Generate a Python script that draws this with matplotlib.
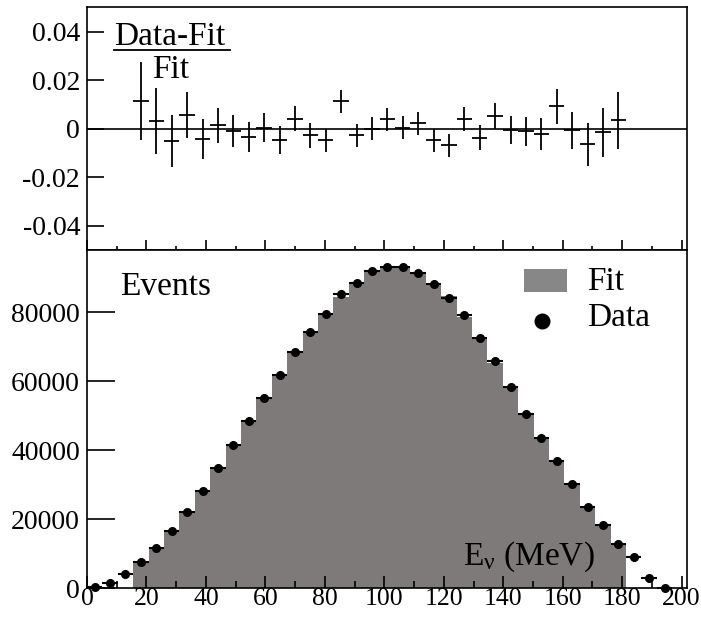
import numpy as np
import matplotlib
matplotlib.use("Agg")
import matplotlib.pyplot as plt
from matplotlib.patches import Rectangle

plt.rcParams["font.family"] = ["Liberation Serif", "DejaVu Serif"]
plt.rcParams["mathtext.fontset"] = "custom"
plt.rcParams["mathtext.rm"] = "Liberation Serif"
plt.rcParams["mathtext.it"] = "Liberation Serif"
plt.rcParams["axes.unicode_minus"] = False

# energy bins (MeV), width ~5.18
BIN_W = 5.18
e_centers = [2.59, 7.77, 12.95, 18.13, 23.31, 28.49, 33.67, 38.85, 44.03, 49.21,
             54.39, 59.57, 64.75, 69.93, 75.11, 80.29, 85.47, 90.65, 95.83, 101.01,
             106.19, 111.37, 116.55, 121.73, 126.91, 132.09, 137.27, 142.45, 147.63,
             152.81, 157.99, 163.17, 168.35, 173.53, 178.71, 183.89, 189.07, 194.25]

data = [300, 1430, 4130, 7460, 11470, 16450, 22190, 28100, 34690, 41570,
        48350, 54960, 61900, 68520, 74120, 79420, 85350, 88300, 91940, 93090,
        93000, 91280, 88130, 84000, 79040, 72500, 65700, 58310, 50460, 43490,
        36810, 30100, 23420, 18180, 12900, 8890, 2780, 100]

# fit only covers bins 3..34
FIT_FIRST, FIT_LAST = 3, 34
fit = [7375, 11435, 16535, 22070, 28225, 34640, 41610, 48510, 54940, 62190,
       68240, 74330, 79800, 84400, 88550, 91940, 92740, 92960, 91080, 88550,
       84580, 78720, 72770, 65360, 58350, 50510, 43590, 36470, 30120, 23570,
       18210, 12860]

resid = [0.0114, 0.0030, -0.0051, 0.0055, -0.0044, 0.0014, -0.0010, -0.0033,
         0.0004, -0.0047, 0.0041, -0.0028, -0.0048, 0.0113, -0.0028, 0.0000,
         0.0038, 0.0004, 0.0022, -0.0048, -0.0069, 0.0041, -0.0037, 0.0052,
         -0.0006, -0.0010, -0.0022, 0.0093, -0.0007, -0.0065, -0.0014, 0.0034]
resid_err = [0.0162, 0.0136, 0.0106, 0.0094, 0.0082, 0.0073, 0.0067, 0.0062,
             0.0059, 0.0056, 0.0052, 0.0050, 0.0047, 0.0048, 0.0046, 0.0046,
             0.0046, 0.0047, 0.0047, 0.0048, 0.0048, 0.0049, 0.0051, 0.0053,
             0.0057, 0.0060, 0.0064, 0.0072, 0.0077, 0.0088, 0.0101, 0.0117]

x_all = np.array(e_centers)
x_fit = x_all[FIT_FIRST:FIT_LAST + 1]
fit_edges = np.append(x_fit - BIN_W / 2, x_fit[-1] + BIN_W / 2)

FILL = "#7e7a7a"
LW = 1.2

fig = plt.figure(figsize=(7.01, 6.19), dpi=100)
ax1 = fig.add_axes([0.1241, 0.5961, 0.8559, 0.3921])
ax2 = fig.add_axes([0.1241, 0.0500, 0.8559, 0.5461])

for ax in (ax1, ax2):
    ax.set_xlim(0, 201.8)
    for sp in ax.spines.values():
        sp.set_linewidth(LW)
    ax.tick_params(which="both", direction="in", width=LW, labelsize=20,
                   top=False, right=False)

# --- residual panel
ax1.axhline(0, color="k", lw=LW)
ax1.errorbar(x_fit, resid, yerr=resid_err, xerr=BIN_W / 2, fmt="none",
             ecolor="k", elinewidth=1.3, capsize=0)
ax1.set_ylim(-0.05, 0.05)
ax1.set_yticks([-0.04, -0.02, 0, 0.02, 0.04])
ax1.set_yticklabels(["-0.04", "-0.02", "0", "0.02", "0.04"])
ax1.set_xticks(range(0, 201, 20))
ax1.set_xticks(range(10, 201, 20), minor=True)
ax1.tick_params(axis="x", which="major", length=7.5, labelbottom=False)
ax1.tick_params(axis="x", which="minor", length=3)
ax1.tick_params(axis="y", which="major", length=12.5, pad=5)
ax1.text(0.045, 0.845, "Data-Fit", transform=ax1.transAxes, fontsize=24)
ax1.plot([0.045, 0.238], [0.826, 0.826], color="k", lw=1.3,
         transform=ax1.transAxes)
ax1.text(0.108, 0.71, "Fit", transform=ax1.transAxes, fontsize=24)

# --- spectrum panel
ax2.stairs(fit, fit_edges, fill=True, color=FILL, lw=0)
ax2.errorbar(x_all, data, xerr=BIN_W / 2, fmt="o", color="k", ms=5.5,
             elinewidth=1.5, capsize=0, clip_on=False, zorder=3)
ax2.set_ylim(0, 98000)
ax2.set_yticks([0, 20000, 40000, 60000, 80000])
ax2.set_yticklabels(["0", "20000", "40000", "60000", "80000"])
ax2.set_xticks(range(0, 201, 20))
ax2.set_xticks(range(10, 201, 20), minor=True)
ax2.tick_params(axis="x", which="major", length=9, pad=0, labelsize=18.5)
ax2.tick_params(axis="x", which="minor", length=5)
ax2.tick_params(axis="y", which="major", length=20, pad=5)
ax2.tick_params(axis="y", which="minor", left=False)

ax2.text(0.055, 0.868, "Events", transform=ax2.transAxes, fontsize=24)
ax2.text(0.627, 0.07, r"E$_{\mathrm{\nu}}$ (MeV)", transform=ax2.transAxes,
         fontsize=24)

# legend
ax2.add_patch(Rectangle((0.728, 0.876), 0.072, 0.068, transform=ax2.transAxes,
                        facecolor="#878787", edgecolor="none"))
ax2.text(0.833, 0.883, "Fit", transform=ax2.transAxes, fontsize=24)
ax2.plot([0.759], [0.79], "o", color="k", ms=10.5, transform=ax2.transAxes)
ax2.text(0.833, 0.774, "Data", transform=ax2.transAxes, fontsize=24)

fig.savefig("out.png", dpi=100)
